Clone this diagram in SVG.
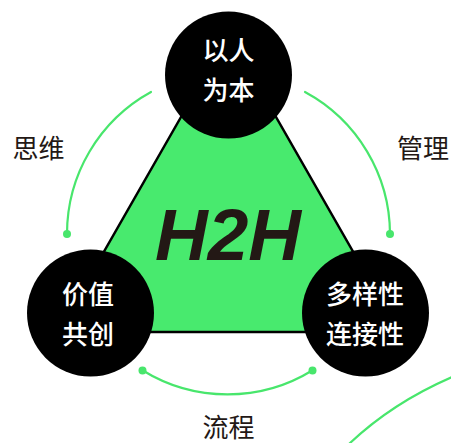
<svg xmlns="http://www.w3.org/2000/svg" width="451" height="443" viewBox="0 0 451 443">
<style>
.arc{fill:none;stroke:#48e66c;stroke-width:2.2;stroke-linecap:round}
.dot{fill:#48e66c}
.node{fill:#000}
.nt{fill:#fff;font-family:"Noto Sans CJK SC","Noto Sans",sans-serif;font-size:26px;font-weight:500;text-anchor:middle}
.lb{fill:#231815;font-family:"Noto Sans CJK SC","Noto Sans",sans-serif;font-size:26px;font-weight:400;text-anchor:middle}
</style>
<rect width="451" height="443" fill="#fff"/>
<g id="triangle">
<polygon points="228.5,34 58,332 399,332" fill="#48ea6e" stroke="#000" stroke-width="2.5" stroke-linejoin="miter"/>
<text x="228" y="260" font-family="Liberation Sans,Arial,sans-serif" font-size="73" font-weight="bold" font-style="italic" fill="#231815" text-anchor="middle">H2H</text>
</g>
<g id="connectors">
<path class="arc" d="M151,92 A162,162 0 0 0 67,234"/>
<path class="arc" d="M305,92 A162,162 0 0 1 390,234"/>
<path class="arc" d="M142,370 A162,162 0 0 0 313,370"/>
<circle class="dot" cx="67" cy="234" r="4"/>
<circle class="dot" cx="390" cy="234" r="4"/>
<circle class="dot" cx="142.5" cy="370.5" r="4"/>
<circle class="dot" cx="312.5" cy="370.5" r="4"/>
<path class="arc" d="M349,444 Q392,403 452,377"/>
</g>
<g id="node-top">
<circle class="node" cx="228.5" cy="75" r="63.5"/>
<text class="nt" x="228.5" y="59.5">以人</text>
<text class="nt" x="228.5" y="99.5">为本</text>
</g>
<g id="node-left">
<circle class="node" cx="90.5" cy="313" r="63.5"/>
<text class="nt" x="88" y="303.5">价值</text>
<text class="nt" x="88" y="343.5">共创</text>
</g>
<g id="node-right">
<circle class="node" cx="365.5" cy="313" r="63.5"/>
<text class="nt" x="365" y="303.5">多样性</text>
<text class="nt" x="365" y="343.5">连接性</text>
</g>
<g id="labels">
<text class="lb" x="38.5" y="158">思维</text>
<text class="lb" x="423" y="158">管理</text>
<text class="lb" x="228.5" y="437">流程</text>
</g>
</svg>
